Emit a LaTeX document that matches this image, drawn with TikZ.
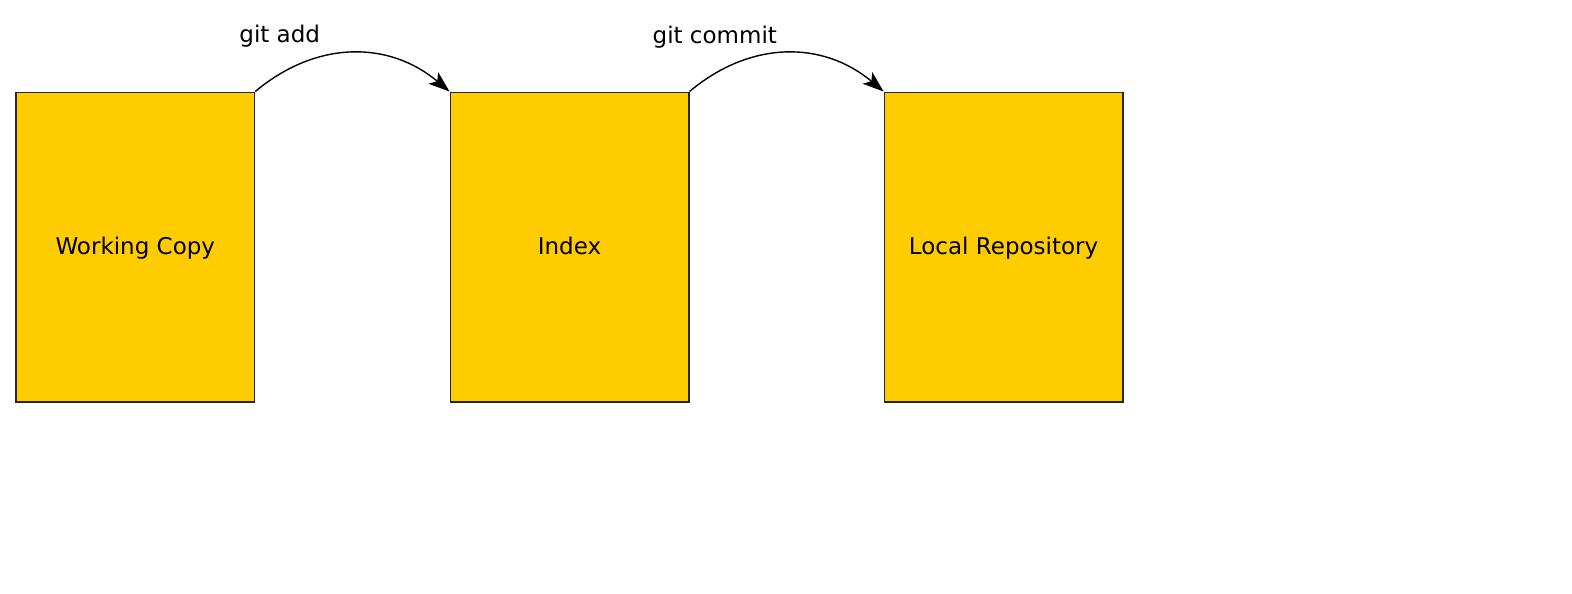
\documentclass[tikz,border=0pt]{standalone}
\usepackage{fontspec}
\setmainfont{DejaVu Sans}
\usetikzlibrary{arrows.meta}
\begin{document}
\begin{tikzpicture}[x=1pt,y=-1pt,
  stage/.style={draw=black!85,line width=1.4pt,fill={rgb,255:red,255;green,204;blue,0},minimum width=238.6pt,minimum height=309.8pt,inner sep=0pt,text height=17pt,text depth=3pt,font=\fontsize{23}{26}\selectfont},
  flow/.style={line width=1.4pt,-{Stealth[length=21pt,width=15pt,inset=5pt]}},
  lbl/.style={font=\fontsize{23}{26}\selectfont}]
\useasboundingbox (0,0) rectangle (1572,594);
\node[stage] (wc) at (135.3,247.1) {Working Copy};
\node[stage] (ix) at (569.5,247.1) {Index};
\node[stage] (lr) at (1003.6,247.1) {Local Repository};
\draw[flow] (wc.north east) to[out=40,in=140,looseness=1.05] (ix.north west);
\draw[flow] (ix.north east) to[out=40,in=140,looseness=1.05] (lr.north west);
\node[lbl] (la) at (279.7,36) {git add};
\node[lbl] (lc) at (714.8,37) {git commit};
\end{tikzpicture}
\end{document}
